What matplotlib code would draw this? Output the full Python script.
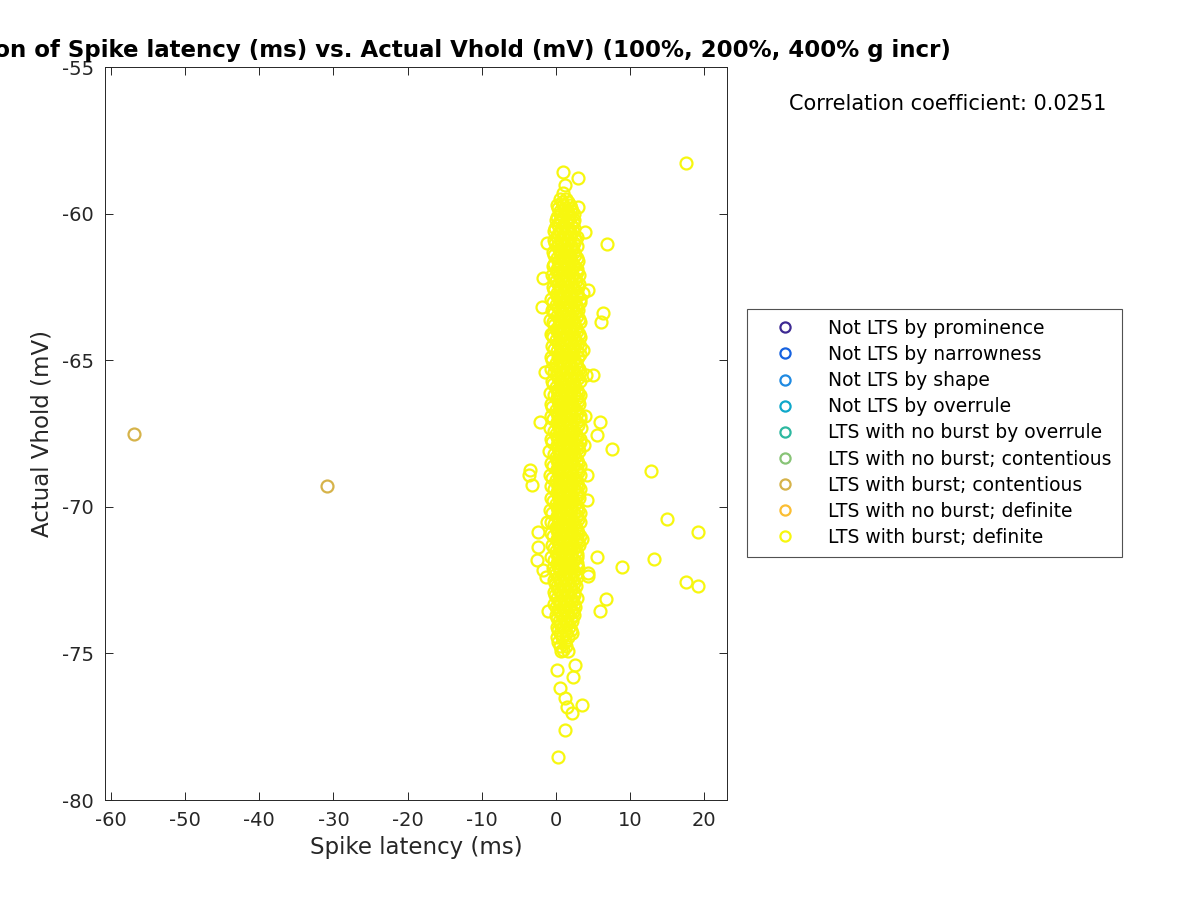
import matplotlib
matplotlib.use("Agg")
import matplotlib.pyplot as plt

plt.rcParams['axes.unicode_minus'] = False

# legend categories and their colours (parula-like)
labels = ["Not LTS by prominence", "Not LTS by narrowness", "Not LTS by shape",
          "Not LTS by overrule", "LTS with no burst by overrule",
          "LTS with no burst; contentious", "LTS with burst; contentious",
          "LTS with no burst; definite", "LTS with burst; definite"]
colors = ["#3E2A93", "#1662E0", "#1F8AE2", "#0FA8CA", "#2DB8A0",
          "#88C477", "#D6B34A", "#FBBE33", "#F7F70F"]

# LTS with burst; contentious
cont_x = [-56.9, -30.8]
cont_y = [-67.52, -69.29]

# LTS with burst; definite -- scattered points
def_x = [17.6, 6.9, 6.3, 6.1, 7.5, 12.8, 15.0, 19.1, 13.2, 8.9, 17.6, 19.1, 6.7, 6.0,
         -1.43, 5.05, 5.99, 5.59, -2.1, -3.45, -3.19, 4.24, 4.24, -2.38, -2.38, -2.51,
         5.59, -1.70, 4.37, 1.0, 3.02, 1.27, 3.02, 3.97, -1.16, -1.7, -1.84, 4.37,
         -0.76, -0.49, 3.70, 4.37, -1.03, 0.19, 1.0, 2.62, 0.19, 2.35, 0.59, 1.27,
         3.56, 1.54, 2.21, 1.27, 0.32, -3.6, 3.6, 3.9, 4.1, -1.3, 3.8, -1.2, 3.5]
def_y = [-58.27, -61.04, -63.4, -63.7, -68.03, -68.78, -70.42, -70.86, -71.78, -72.05,
         -72.56, -72.70, -73.14, -73.55,
         -65.40, -65.50, -67.11, -67.55, -67.11, -68.74, -69.26, -68.92, -69.77, -70.86,
         -71.37, -71.81, -71.71, -72.16, -72.26, -58.58, -58.79, -59.02, -59.77, -60.63,
         -61.0, -62.2, -63.19, -62.61, -63.63, -64.14, -64.65, -72.36, -73.55, -74.44,
         -74.88, -75.40, -75.57, -75.80, -76.18, -76.52, -76.76, -76.83, -77.03, -77.61,
         -78.53, -68.9, -62.7, -66.9, -65.5, -72.4, -67.9, -70.5, -71.1]

# dense core of the definite cloud: (Vhold, [latencies])
core_rows = [
    (-59.3, [0.9]), (-59.5, [0.5, 1.3]), (-59.7, [0.2, 1.0, 1.9]),
    (-59.9, [0.6, 1.5, 2.2]), (-60.1, [0.1, 0.9, 1.8]), (-60.3, [0.4, 1.3, 2.3]),
    (-60.5, [-0.1, 0.8, 1.7, 2.5]), (-60.7, [0.3, 1.2, 2.1]),
    (-60.9, [-0.2, 0.7, 1.6, 2.6]), (-61.1, [0.2, 1.1, 2.0, 2.9]),
    (-61.3, [-0.4, 0.6, 1.5, 2.4]), (-61.5, [0.1, 1.0, 1.9, 2.8]),
    (-61.7, [-0.3, 0.5, 1.4, 2.3]), (-61.9, [0.2, 1.1, 2.0, 2.9]),
    (-62.1, [-0.5, 0.4, 1.3, 2.2, 3.1]), (-62.3, [0.0, 0.9, 1.8, 2.7]),
    (-62.5, [-0.4, 0.5, 1.4, 2.3, 3.0]), (-62.7, [0.1, 1.0, 1.9, 2.8]),
    (-62.9, [-0.6, 0.4, 1.3, 2.2, 3.2]), (-63.1, [0.0, 0.9, 1.8, 2.7]),
    (-63.3, [-0.5, 0.5, 1.4, 2.3, 3.0]), (-63.5, [0.2, 1.0, 1.9, 2.8]),
    (-63.7, [-0.4, 0.6, 1.5, 2.4, 3.3]), (-63.9, [0.1, 1.0, 1.9, 2.7]),
    (-64.1, [-0.6, 0.4, 1.3, 2.2, 3.1]), (-64.3, [0.0, 0.9, 1.8, 2.6]),
    (-64.5, [-0.5, 0.5, 1.4, 2.3, 3.2]), (-64.7, [0.1, 1.0, 1.9, 2.8]),
    (-64.9, [-0.6, 0.3, 1.2, 2.1, 3.0]), (-65.1, [0.0, 0.9, 1.8, 2.7]),
    (-65.3, [-0.7, 0.4, 1.3, 2.2, 3.1]), (-65.5, [0.1, 1.0, 1.9, 2.8]),
    (-65.7, [-0.5, 0.5, 1.4, 2.3, 3.2]), (-65.9, [0.0, 0.9, 1.8, 2.6]),
    (-66.1, [-0.8, 0.3, 1.2, 2.1, 3.0]), (-66.3, [0.1, 1.0, 1.9, 2.8]),
    (-66.5, [-0.6, 0.4, 1.3, 2.2, 3.1]), (-66.7, [0.0, 0.9, 1.8, 2.7]),
    (-66.9, [-0.7, 0.3, 1.2, 2.1, 3.2]), (-67.1, [0.1, 1.0, 1.9, 2.8]),
    (-67.3, [-0.8, 0.4, 1.3, 2.2, 3.4]), (-67.5, [0.0, 0.9, 1.8, 2.7]),
    (-67.7, [-0.6, 0.3, 1.2, 2.1, 3.3]), (-67.9, [0.1, 1.0, 1.9, 2.8]),
    (-68.1, [-0.9, 0.4, 1.3, 2.2, 3.1]), (-68.3, [0.0, 0.9, 1.8, 2.6]),
    (-68.5, [-0.7, 0.3, 1.2, 2.1, 3.0]), (-68.7, [0.1, 1.0, 1.9, 2.8]),
    (-68.9, [-0.8, 0.4, 1.3, 2.2, 3.2]), (-69.1, [0.0, 0.9, 1.8, 2.7]),
    (-69.3, [-0.6, 0.3, 1.2, 2.1, 3.0]), (-69.5, [0.1, 1.0, 1.9, 2.8]),
    (-69.7, [-0.7, 0.4, 1.3, 2.2, 3.1]), (-69.9, [0.0, 0.9, 1.8, 2.6]),
    (-70.1, [-0.8, 0.3, 1.2, 2.1, 3.0]), (-70.3, [0.1, 1.0, 1.9, 2.8]),
    (-70.5, [-0.6, 0.4, 1.3, 2.2, 3.2]), (-70.7, [0.0, 0.9, 1.8, 2.7]),
    (-70.9, [-0.7, 0.3, 1.2, 2.1, 3.0]), (-71.1, [0.1, 1.0, 1.9, 2.8]),
    (-71.3, [-0.5, 0.4, 1.3, 2.2, 3.1]), (-71.5, [0.0, 0.9, 1.8, 2.7]),
    (-71.7, [-0.6, 0.3, 1.2, 2.1, 2.9]), (-71.9, [0.1, 1.0, 1.9, 2.8]),
    (-72.1, [-0.4, 0.4, 1.3, 2.2, 3.0]), (-72.3, [0.0, 0.9, 1.8, 2.7]),
    (-72.5, [-0.3, 0.5, 1.4, 2.3]), (-72.7, [0.1, 1.0, 1.9, 2.7]),
    (-72.9, [-0.2, 0.6, 1.5, 2.4]), (-73.1, [0.2, 1.1, 2.0, 2.8]),
    (-73.3, [-0.3, 0.6, 1.5, 2.4]), (-73.5, [0.3, 1.2, 2.1]),
    (-73.7, [0.0, 0.8, 1.7, 2.5]), (-73.9, [0.4, 1.3, 2.2]),
    (-74.1, [0.2, 1.0, 1.8]), (-74.3, [0.5, 1.4, 2.2]),
    (-74.6, [0.3, 1.2]), (-74.9, [0.7, 1.6]),
]

# second, offset layer of the core
core_rows2 = [
    (-59.6, [0.8, 1.6]), (-59.8, [0.3, 1.2, 2.0]), (-60.0, [0.5, 1.4, 2.4]),
    (-60.2, [0.0, 0.7, 1.6, 2.5]), (-60.4, [0.3, 1.1, 2.0]),
    (-60.6, [-0.3, 0.6, 1.5, 2.3]), (-60.8, [0.2, 1.0, 1.9, 2.8]),
    (-61.0, [-0.1, 0.8, 1.7, 2.5]), (-61.2, [0.4, 1.3, 2.2]),
    (-61.4, [-0.2, 0.7, 1.6, 2.6]), (-61.6, [0.3, 1.2, 2.1, 3.0]),
    (-61.8, [-0.4, 0.6, 1.5, 2.5]), (-62.0, [0.1, 1.0, 1.9, 2.8]),
    (-62.2, [-0.2, 0.7, 1.6, 2.6]), (-62.4, [0.3, 1.2, 2.1, 3.1]),
    (-62.6, [-0.3, 0.6, 1.5, 2.5]), (-62.8, [0.2, 1.1, 2.0, 2.9]),
    (-63.0, [-0.4, 0.5, 1.4, 2.4, 3.3]), (-63.2, [0.3, 1.2, 2.1, 2.9]),
    (-63.4, [-0.2, 0.7, 1.6, 2.6]), (-63.6, [0.4, 1.3, 2.2, 3.1]),
    (-63.8, [-0.3, 0.6, 1.5, 2.5]), (-64.0, [0.2, 1.1, 2.0, 2.9]),
    (-64.2, [-0.4, 0.5, 1.4, 2.4, 3.3]), (-64.4, [0.3, 1.2, 2.1, 3.0]),
    (-64.6, [-0.2, 0.7, 1.6, 2.5]), (-64.8, [0.4, 1.3, 2.2, 3.2]),
    (-65.0, [-0.5, 0.6, 1.5, 2.4]), (-65.2, [0.2, 1.1, 2.0, 2.9]),
    (-65.4, [-0.3, 0.5, 1.4, 2.3, 3.3]), (-65.6, [0.3, 1.2, 2.1, 3.0]),
    (-65.8, [-0.4, 0.7, 1.6, 2.5]), (-66.0, [0.2, 1.1, 2.0, 2.9]),
    (-66.2, [-0.3, 0.6, 1.5, 2.4, 3.3]), (-66.4, [0.3, 1.2, 2.1, 3.0]),
    (-66.6, [-0.5, 0.5, 1.4, 2.3]), (-66.8, [0.2, 1.1, 2.0, 2.9]),
    (-67.0, [-0.4, 0.6, 1.5, 2.4, 3.3]), (-67.2, [0.3, 1.2, 2.1, 3.0]),
    (-67.4, [-0.3, 0.7, 1.6, 2.5]), (-67.6, [0.2, 1.1, 2.0, 2.9]),
    (-67.8, [-0.5, 0.5, 1.4, 2.3, 3.2]), (-68.0, [0.3, 1.2, 2.1, 3.0]),
    (-68.2, [-0.3, 0.6, 1.5, 2.4]), (-68.4, [0.2, 1.1, 2.0, 2.9]),
    (-68.6, [-0.4, 0.5, 1.4, 2.3, 3.3]), (-68.8, [0.3, 1.2, 2.1, 3.0]),
    (-69.0, [-0.5, 0.7, 1.6, 2.5]), (-69.2, [0.2, 1.1, 2.0, 2.9]),
    (-69.4, [-0.3, 0.6, 1.5, 2.4, 3.3]), (-69.6, [0.3, 1.2, 2.1, 3.0]),
    (-69.8, [-0.4, 0.5, 1.4, 2.3]), (-70.0, [0.2, 1.1, 2.0, 2.9]),
    (-70.2, [-0.5, 0.6, 1.5, 2.4, 3.2]), (-70.4, [0.3, 1.2, 2.1, 3.0]),
    (-70.6, [-0.3, 0.7, 1.6, 2.5]), (-70.8, [0.2, 1.1, 2.0, 2.9]),
    (-71.0, [-0.4, 0.5, 1.4, 2.3, 3.2]), (-71.2, [0.3, 1.2, 2.1, 3.0]),
    (-71.4, [-0.3, 0.6, 1.5, 2.4]), (-71.6, [0.2, 1.1, 2.0, 2.9]),
    (-71.8, [-0.2, 0.7, 1.6, 2.5]), (-72.0, [0.3, 1.2, 2.1, 2.9]),
    (-72.2, [-0.1, 0.6, 1.5, 2.4]), (-72.4, [0.3, 1.1, 2.0, 2.8]),
    (-72.6, [-0.1, 0.7, 1.6, 2.5]), (-72.8, [0.3, 1.2, 2.1]),
    (-73.0, [-0.1, 0.8, 1.7, 2.5]), (-73.2, [0.4, 1.3, 2.2]),
    (-73.4, [0.0, 0.9, 1.8, 2.6]), (-73.6, [0.6, 1.5, 2.3]),
    (-73.8, [0.2, 1.1, 2.0]), (-74.0, [0.6, 1.5]), (-74.2, [0.3, 1.2, 2.0]),
    (-74.45, [0.8, 1.7]), (-74.75, [0.5, 1.3]),
]

corr_coef = 0.0251

for vh, lats in core_rows + core_rows2:
    for lat in lats:
        def_x.append(lat)
        def_y.append(vh)

fig = plt.figure(figsize=(12, 9), dpi=100)
ax = fig.add_axes([0.0875, 0.111, 0.5185, 0.8145])

msz = 8.6
mew = 1.6
handles = []
for lab, c in zip(labels, colors):
    if lab == "LTS with burst; contentious":
        xs, ys = cont_x, cont_y
    elif lab == "LTS with burst; definite":
        xs, ys = def_x, def_y
    else:
        xs, ys = [], []
    h, = ax.plot(xs, ys, 'o', linestyle='none', markersize=msz, markerfacecolor='none',
                 markeredgecolor=c, markeredgewidth=mew, label=lab)
    handles.append(h)

ax.set_xlim(-60.8, 23.1)
ax.set_ylim(-80, -55)
ax.set_xticks(range(-60, 21, 10))
ax.set_yticks(range(-80, -54, 5))
ax.tick_params(direction='in', top=True, right=True, labelsize=14, length=6, pad=8,
               colors='#262626', width=0.7)
for sp in ax.spines.values():
    sp.set_linewidth(0.7)
    sp.set_color('#262626')
ax.set_xlabel("Spike latency (ms)", fontsize=16.5, color='#262626', labelpad=4)
ax.set_ylabel("Actual Vhold (mV)", fontsize=16.5, color='#262626', labelpad=6)
ax.set_title("Correlation of Spike latency (ms) vs. Actual Vhold (mV) (100%, 200%, 400% g incr)",
             fontsize=16.5, fontweight='bold', pad=7)

fig.text(0.79, 0.885, "Correlation coefficient: %.4f" % corr_coef, fontsize=15,
         ha='center', va='center')

leg = fig.legend(handles=handles, loc='center', bbox_to_anchor=(0.7788, 0.519),
                 fontsize=13.5, frameon=True, fancybox=False, edgecolor='#262626',
                 handlelength=3.0, handletextpad=0.8, labelspacing=0.38,
                 borderpad=0.55, markerscale=0.85)
leg.get_frame().set_linewidth(0.8)

fig.savefig("out.png", dpi=100)
